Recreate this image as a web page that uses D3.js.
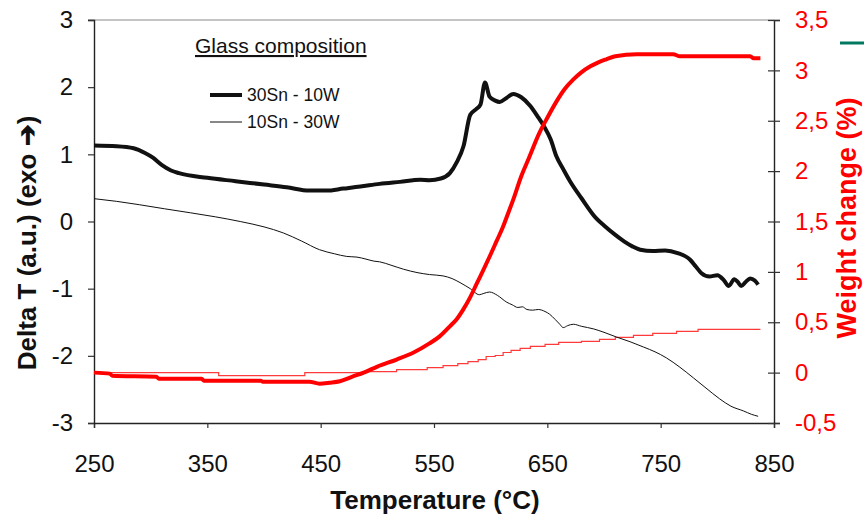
<!DOCTYPE html>
<html><head><meta charset="utf-8">
<script src="https://cdn.jsdelivr.net/npm/d3@7"></script>
<style>body{margin:0;background:#fff}svg{display:block}text{font-family:"Liberation Sans",Arial,sans-serif}</style>
</head><body><svg id="c" width="864" height="518"></svg>
<script>
// ---- data ----
const xTicks = [250, 350, 450, 550, 650, 750, 850];
const leftTicks = [-3, -2, -1, 0, 1, 2, 3];
const rightTicks = [-0.5, 0, 0.5, 1, 1.5, 2, 2.5, 3, 3.5];
const legendTitle = "Glass composition";
const seriesNames = ["30Sn - 10W", "10Sn - 30W"];

// DTA 30Sn-10W (left axis)
const dta30T = [250,270,285,295,302,310,318,325,350,375,400,420,440,455,470,485,502,520,538,546,556,564,570,576,582,587,591,595,599,604,608,614,620,627,635,642,647,653,658,664,670,680,693,700,710,718,725,732,743,754,765,776,781,786,793,800,806,810,815,818,821,825,829,833,836];
const dta30V = [1.13,1.12,1.09,1.02,0.95,0.84,0.76,0.72,0.65,0.6,0.55,0.51,0.46,0.46,0.49,0.52,0.56,0.59,0.62,0.615,0.64,0.72,0.88,1.12,1.59,1.67,1.74,2.07,1.86,1.8,1.78,1.84,1.9,1.85,1.72,1.55,1.42,1.22,0.97,0.78,0.6,0.35,0.05,-0.06,-0.2,-0.3,-0.37,-0.42,-0.44,-0.43,-0.47,-0.57,-0.67,-0.77,-0.82,-0.8,-0.88,-0.96,-0.86,-0.9,-0.96,-0.9,-0.85,-0.88,-0.94];

// DTA 10Sn-30W (left axis)
const dta10T = [250,270,290,312,335,357,379,400,417,433,449,462,473,482,490,497,502,512,523,535,546,558,566,573,582,590,594,599,606,614,619,624,628,632,637,642,648,652,657,661,664,668,673,680,691,700,711,723,735,745,755,767,779,790,802,812,823,830,836];
const dta10V = [0.34,0.3,0.25,0.19,0.13,0.07,0.0,-0.08,-0.17,-0.29,-0.42,-0.48,-0.52,-0.53,-0.56,-0.59,-0.6,-0.65,-0.71,-0.76,-0.79,-0.81,-0.85,-0.91,-1.0,-1.09,-1.07,-1.05,-1.1,-1.2,-1.24,-1.28,-1.27,-1.31,-1.32,-1.31,-1.34,-1.38,-1.46,-1.53,-1.58,-1.55,-1.53,-1.56,-1.6,-1.65,-1.72,-1.79,-1.87,-1.94,-2.03,-2.17,-2.33,-2.48,-2.64,-2.75,-2.82,-2.87,-2.9];

// Weight change 30Sn-10W (right axis)
const tg30T = [250,264,266,305,307,345,347,397,399,440,449,458,467,478,488,500,517,532,546,555,564,570,576,582,588,594,599,605,611,616,620,627,633,643,650,658,665,673,680,688,695,702,710,729,761,767,829,832,838];
const tg30W = [0.0,-0.01,-0.03,-0.04,-0.06,-0.06,-0.08,-0.08,-0.09,-0.09,-0.11,-0.1,-0.085,-0.04,0.0,0.06,0.13,0.2,0.29,0.36,0.46,0.53,0.63,0.75,0.89,1.03,1.15,1.3,1.45,1.6,1.72,1.95,2.11,2.38,2.53,2.69,2.81,2.91,2.98,3.04,3.08,3.11,3.14,3.16,3.16,3.14,3.14,3.12,3.12];

// Weight change 10Sn-30W (right axis)
const tg10T = [250,360,436,488,517,544,558,571,580,589,596,604,611,618,626,635,648,660,680,696,710,726,743,764,783,838];
const tg10W = [0.0,-0.03,0.0,0.01,0.03,0.05,0.07,0.09,0.11,0.13,0.16,0.17,0.2,0.22,0.24,0.26,0.28,0.3,0.31,0.33,0.35,0.37,0.39,0.41,0.43,0.43];

// ---- drawing ----
const svg = d3.select("#c");
const L = 94, R = 774, T = 20, B = 423;
const x = d3.scaleLinear().domain([250, 850]).range([L, R]);
const yL = d3.scaleLinear().domain([-3, 3]).range([B, T]);
const yR = d3.scaleLinear().domain([-0.5, 3.5]).range([B, T]);
const fmtR = d => String(d).replace(".", ",");
const FONT = "Liberation Sans, Arial, sans-serif";

// top border
svg.append("line").attr("x1", L - 6).attr("x2", R).attr("y1", T).attr("y2", T)
  .attr("stroke", "#8a8a8a").attr("stroke-width", 1.2);

// x axis
const gx = svg.append("g").attr("transform", `translate(0,${B})`)
  .call(d3.axisBottom(x).tickValues(xTicks).tickSize(5).tickPadding(27).tickFormat(d => String(d)));
// left axis
const gl = svg.append("g").attr("transform", `translate(${L},0)`)
  .call(d3.axisLeft(yL).tickValues(leftTicks).tickSize(6).tickPadding(15).tickFormat(d => String(d)));
// right axis
const gr = svg.append("g").attr("transform", `translate(${R},0)`)
  .call(d3.axisRight(yR).tickValues(rightTicks).tickSize(6).tickPadding(15).tickFormat(fmtR));
gr.selectAll(".tick line").attr("x1", -6);

[gx, gl, gr].forEach(g => {
  g.select(".domain").attr("stroke", "#222").attr("stroke-width", 1.4);
  g.selectAll(".tick line").attr("stroke", "#333").attr("stroke-width", 1.2);
  g.selectAll(".tick text").attr("font-family", FONT).attr("font-size", 24).attr("fill", "#111");
});
gr.selectAll(".tick text").attr("fill", "#ff0000");

// series lines
const lineL = (ts, vs, curve) => d3.line().x((d, i) => x(ts[i])).y((d, i) => yL(vs[i])).curve(curve)(ts);
const lineR = (ts, vs, curve) => d3.line().x((d, i) => x(ts[i])).y((d, i) => yR(vs[i])).curve(curve)(ts);

svg.append("path").attr("d", lineR(tg10T, tg10W, d3.curveStepAfter))
  .attr("fill", "none").attr("stroke", "#ff3a3a").attr("stroke-width", 1.2);
svg.append("path").attr("d", lineL(dta10T, dta10V, d3.curveMonotoneX))
  .attr("fill", "none").attr("stroke", "#111").attr("stroke-width", 1);
svg.append("path").attr("d", lineL(dta30T, dta30V, d3.curveMonotoneX))
  .attr("fill", "none").attr("stroke", "#111").attr("stroke-width", 4).attr("stroke-linejoin", "round");
svg.append("path").attr("d", lineR(tg30T, tg30W, d3.curveMonotoneX))
  .attr("fill", "none").attr("stroke", "#ff0000").attr("stroke-width", 4).attr("stroke-linejoin", "round");

// legend
svg.append("text").attr("x", 195).attr("y", 53).attr("font-size", 21).attr("fill", "#111")
  .attr("text-decoration", "underline").text(legendTitle);
const legY = [95, 122], legW = [4, 1];
seriesNames.forEach((n, i) => {
  svg.append("line").attr("x1", 210).attr("x2", 242).attr("y1", legY[i]).attr("y2", legY[i])
    .attr("stroke", "#111").attr("stroke-width", legW[i]);
  svg.append("text").attr("x", 247).attr("y", legY[i] + 6).attr("font-size", 17.5).attr("fill", "#111").text(n);
});

// axis titles
svg.append("text").attr("x", 435).attr("y", 509).attr("text-anchor", "middle")
  .attr("font-size", 26).attr("font-weight", "bold").attr("fill", "#111").text("Temperature (°C)");
svg.append("text").attr("transform", "translate(36,243) rotate(-90)").attr("text-anchor", "middle")
  .attr("font-size", 26).attr("font-weight", "bold").attr("fill", "#111").text("Delta T (a.u.) (exo ➔)");
svg.append("text").attr("transform", "translate(856,218) rotate(-90)").attr("text-anchor", "middle")
  .attr("font-size", 27).attr("font-weight", "bold").attr("fill", "#ff0000").text("Weight change (%)");

// stray legend mark at top right
svg.append("line").attr("x1", 840).attr("x2", 864).attr("y1", 43).attr("y2", 43)
  .attr("stroke", "#00785f").attr("stroke-width", 3);
</script></body></html>
